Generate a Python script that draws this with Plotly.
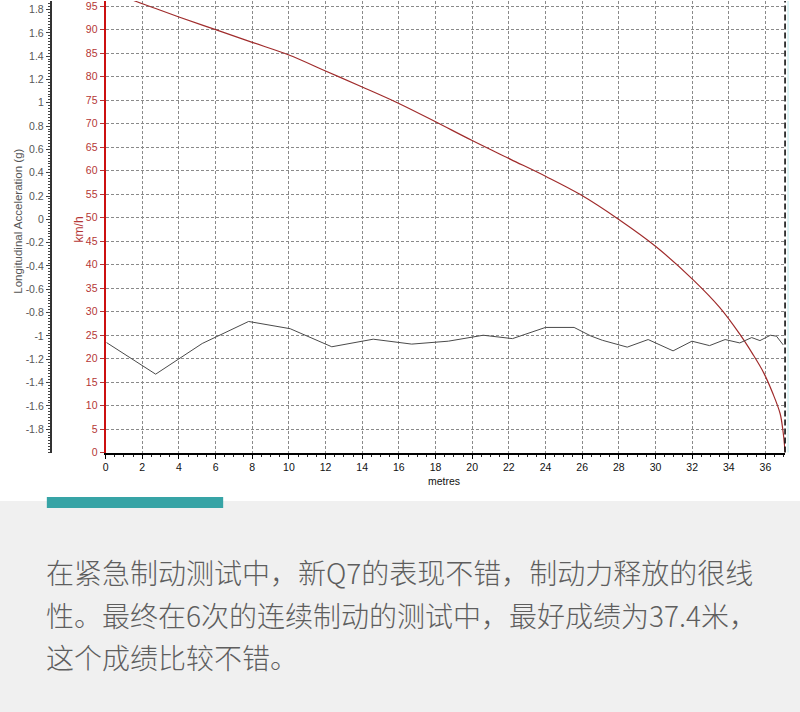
import plotly.graph_objects as go

# ---- data ----
speed_dist = [0, 1.6, 2.73, 4.0, 6.0, 8.0, 10.0, 12.0, 14.0, 16.0, 18.0, 20.0, 22.1, 24.0,
              25.9, 28.0, 30.0, 32.1, 33.5, 34.6, 35.3, 35.9, 36.4, 36.8, 36.95, 37.04, 37.07]
speed_kmh = [98.8, 96.1, 94.5, 92.7, 90.0, 87.3, 84.6, 81.2, 77.8, 74.3, 70.4, 66.4, 62.4, 58.8,
             54.9, 49.6, 43.9, 36.6, 30.9, 25.2, 21.0, 17.0, 12.6, 8.3, 4.8, 1.6, 0.0]

accel_dist = [0.05, 2.73, 5.27, 7.8, 10.07, 12.34, 14.6, 15.6, 16.7, 18.7, 20.6, 22.2, 24.0,
              25.56, 26.47, 27.1, 28.46, 29.6, 30.96, 31.99, 32.95, 33.8, 34.6, 35.25, 35.7,
              36.27, 36.6, 36.97]
accel_g = [-1.057, -1.328, -1.065, -0.876, -0.938, -1.093, -1.028, -1.045, -1.07, -1.045,
           -0.994, -1.023, -0.927, -0.927, -1.0, -1.037, -1.096, -1.031, -1.128, -1.045,
           -1.083, -1.031, -1.06, -1.014, -1.04, -0.994, -1.002, -1.077]

x_ticks = list(range(0, 37, 2))
speed_ticks = list(range(0, 96, 5))
accel_ticks = [1.8, 1.6, 1.4, 1.2, 1, 0.8, 0.6, 0.4, 0.2, 0, -0.2, -0.4, -0.6, -0.8,
               -1, -1.2, -1.4, -1.6, -1.8]
accel_labels = ["1.8", "1.6", "1.4", "1.2", "1", "0.8", "0.6", "0.4", "0.2", "0", "-0.2",
                "-0.4", "-0.6", "-0.8", "-1", "-1.2", "-1.4", "-1.6", "-1.8"]

x_range = [0, 37.07]
speed_range = [0, 96.1]
accel_range = [-2.0, 1.873]

paragraph = ["在紧急制动测试中，新Q7的表现不错，制动力释放的很线",
             "性。最终在6次的连续制动的测试中，最好成绩为37.4米，",
             "这个成绩比较不错。"]

W, H = 800, 712
FONT = "Liberation Sans, Arial, sans-serif"
RED = "#b53636"

fig = go.Figure()
fig.add_trace(go.Scatter(x=accel_dist, y=accel_g, mode="lines", yaxis="y2",
                         line=dict(color="#4a4a4a", width=1), showlegend=False,
                         hoverinfo="skip"))
fig.add_trace(go.Scatter(x=speed_dist, y=speed_kmh, mode="lines", yaxis="y",
                         line=dict(color="#a02c2c", width=1.2, shape="spline", smoothing=1.0),
                         showlegend=False, hoverinfo="skip"))

x0, x1 = 103 / W, 785 / W
ybot = 1 - 456 / H

fig.update_layout(
    width=W, height=H,
    margin=dict(l=0, r=0, t=0, b=0),
    paper_bgcolor="white", plot_bgcolor="white",
    font=dict(family=FONT, size=10.5, color="#333"),
    xaxis=dict(domain=[x0, x1], range=x_range, tickvals=x_ticks,
               showline=True, linecolor="black", linewidth=2,
               ticks="outside", ticklen=4, tickcolor="black",
               tickfont=dict(size=10.5, color="#111"),
               minor=dict(dtick=0.5, ticks="outside", ticklen=2, tickcolor="#222", showgrid=False),
               showgrid=True, gridcolor="#8a8a8a", griddash="3px,2px", gridwidth=1,
               zeroline=False, anchor="y"),
    yaxis=dict(domain=[ybot, 1], range=speed_range, tickvals=speed_ticks,
               showline=True, linecolor="#cc1010", linewidth=2,
               ticks="outside", ticklen=4, tickcolor=RED,
               tickfont=dict(size=10.5, color=RED), ticklabeloverflow="allow",
               showgrid=True, gridcolor="#8a8a8a", griddash="3px,2px", gridwidth=1,
               zeroline=False, anchor="x"),
    yaxis2=dict(domain=[ybot, 1], range=accel_range, overlaying="y", anchor="free",
                position=48 / W, side="left",
                tickvals=accel_ticks, ticktext=accel_labels,
                showline=True, linecolor="#333", linewidth=2,
                ticks="outside", ticklen=4, tickcolor="#444",
                tickfont=dict(size=10.5, color="#555"), ticklabeloverflow="allow",
                minor=dict(dtick=0.025, tick0=0, ticks="outside", ticklen=2,
                           tickcolor="#444", showgrid=False),
                showgrid=False, zeroline=False),
)

shapes = [
    # grey lower panel
    dict(type="rect", xref="paper", yref="paper", x0=-0.02, x1=1.02, y0=-0.02,
         y1=(H - 505) / H, fillcolor="#f0f0f0", line=dict(width=0), layer="below"),
    # teal bar
    dict(type="rect", xref="paper", yref="paper", x0=44 / W, x1=221 / W,
         y0=1 - 512 / H, y1=1 - 501 / H, fillcolor="#37a4a6", line=dict(width=0)),
    # dashed right boundary
    dict(type="line", xref="x domain", yref="y domain", x0=1, x1=1, y0=0, y1=1,
         line=dict(color="black", width=1.5, dash="6px,3px")),
    dict(type="line", xref="paper", yref="y domain", x0=788 / W, x1=788 / W, y0=0, y1=1,
         line=dict(color="#c8ecee", width=1.2)),
]
fig.update_layout(shapes=shapes)

annotations = [
    dict(text="Longitudinal Acceleration (g)", xref="paper", yref="paper",
         x=15 / W, y=1 - 222 / H, textangle=-90, showarrow=False,
         font=dict(family=FONT, size=11.5, color="#555"), xanchor="center", yanchor="middle"),
    dict(text="km/h", xref="paper", yref="paper", x=76 / W, y=1 - 231 / H, textangle=-90,
         showarrow=False, font=dict(family=FONT, size=12, color=RED),
         xanchor="center", yanchor="middle"),
    dict(text="metres", xref="paper", yref="paper", x=443 / W, y=1 - 485 / H,
         showarrow=False, font=dict(family=FONT, size=10.5, color="#111"),
         xanchor="center", yanchor="middle"),
]
for i, line in enumerate(paragraph):
    annotations.append(dict(text=line, xref="paper", yref="paper", x=41 / W,
                            y=1 - (577 + 43 * i) / H, showarrow=False,
                            xanchor="left", yanchor="middle",
                            font=dict(family="Noto Sans CJK SC", size=28, color="#5e5e5e",
                                      weight=300)))
fig.update_layout(annotations=annotations)

fig.write_html(
    "out.html",
    config={"displayModeBar": False, "responsive": False},
    post_script=("document.documentElement.style.margin='0';"
                 "document.documentElement.style.overflow='hidden';"
                 "document.body.style.margin='0';document.body.style.padding='0';"
                 "document.body.style.overflow='hidden';"),
)
